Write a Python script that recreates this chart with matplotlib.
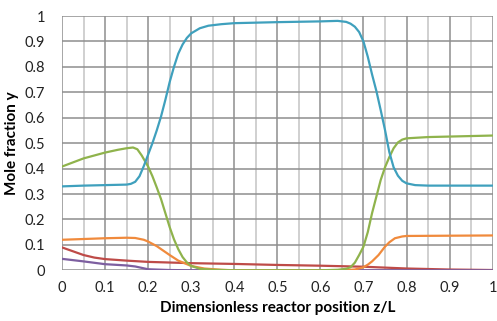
import matplotlib
matplotlib.use("Agg")
import matplotlib.pyplot as plt
from matplotlib.ticker import MultipleLocator

plt.rcParams['font.family'] = ['Lato', 'DejaVu Sans']

# mole fraction profiles along the reactor
z_blue = [0, 0.05, 0.1, 0.15, 0.16, 0.17, 0.18, 0.19, 0.2, 0.21, 0.22, 0.23, 0.24, 0.25,
          0.26, 0.27, 0.28, 0.29, 0.3, 0.32, 0.34, 0.37, 0.4, 0.5, 0.6, 0.64, 0.66,
          0.67, 0.68, 0.69, 0.7, 0.71, 0.72, 0.73, 0.74, 0.75, 0.76, 0.77, 0.78,
          0.79, 0.8, 0.82, 0.85, 0.9, 1.0]
y_blue = [0.330, 0.333, 0.335, 0.337, 0.34, 0.348, 0.37, 0.41, 0.455, 0.50, 0.55, 0.605,
          0.67, 0.74, 0.80, 0.852, 0.888, 0.914, 0.932, 0.952, 0.962, 0.968, 0.972,
          0.976, 0.979, 0.981, 0.977, 0.970, 0.958, 0.937, 0.90, 0.84, 0.77, 0.705,
          0.63, 0.552, 0.465, 0.405, 0.372, 0.352, 0.342, 0.335, 0.333, 0.333, 0.333]

z_green = [0, 0.05, 0.1, 0.13, 0.15, 0.165, 0.175, 0.185, 0.2, 0.21, 0.22, 0.23, 0.24,
           0.25, 0.26, 0.27, 0.28, 0.29, 0.3, 0.32, 0.35, 0.4, 0.6, 0.64, 0.66, 0.67,
           0.68, 0.69, 0.7, 0.71, 0.72, 0.73, 0.74, 0.75, 0.76, 0.77, 0.78, 0.79, 0.8,
           0.85, 0.9, 1.0]
y_green = [0.408, 0.44, 0.463, 0.474, 0.48, 0.483, 0.476, 0.452, 0.408, 0.37, 0.326,
           0.28, 0.225, 0.17, 0.122, 0.083, 0.052, 0.031, 0.017, 0.006, 0.002, 0.0,
           0.0, 0.002, 0.006, 0.012, 0.03, 0.06, 0.093, 0.15, 0.225, 0.29, 0.355,
           0.405, 0.445, 0.48, 0.503, 0.514, 0.519, 0.524, 0.526, 0.53]

z_orange = [0, 0.05, 0.1, 0.15, 0.17, 0.19, 0.2, 0.22, 0.25, 0.27, 0.3, 0.33, 0.37,
            0.4, 0.65, 0.68, 0.7, 0.71, 0.72, 0.735, 0.75, 0.76, 0.773, 0.79, 0.8,
            0.9, 1.0]
y_orange = [0.12, 0.123, 0.126, 0.128, 0.127, 0.12, 0.113, 0.095, 0.06, 0.038, 0.017,
            0.007, 0.002, 0.0, 0.0, 0.003, 0.012, 0.022, 0.035, 0.06, 0.093, 0.11,
            0.126, 0.133, 0.135, 0.136, 0.137]

z_red = [0, 0.025, 0.05, 0.075, 0.1, 0.15, 0.2, 0.3, 0.4, 0.5, 0.6, 0.7, 0.8, 0.9, 1.0]
y_red = [0.09, 0.075, 0.06, 0.05, 0.044, 0.038, 0.033, 0.028, 0.025, 0.021, 0.018,
         0.014, 0.007, 0.003, 0.001]

z_purple = [0, 0.05, 0.1, 0.15, 0.17, 0.2, 0.25, 0.3, 1.0]
y_purple = [0.045, 0.035, 0.024, 0.019, 0.015, 0.004, 0.001, 0.0, 0.0]

series = [
    (z_red, y_red, '#be4b48'),
    (z_purple, y_purple, '#7d5fa0'),
    (z_orange, y_orange, '#f08a3c'),
    (z_green, y_green, '#8fb34c'),
    (z_blue, y_blue, '#3fa0bd'),
]

fig = plt.figure(figsize=(4.97, 3.21), dpi=100)
ax = fig.add_axes([0.1247, 0.158, 0.8666, 0.792])

for z, y, c in series:
    ax.plot(z, y, color=c, lw=1.6, solid_capstyle='round', zorder=3)

ax.set_xlim(0, 1)
ax.set_ylim(0, 1)
ax.xaxis.set_major_locator(MultipleLocator(0.1))
ax.xaxis.set_minor_locator(MultipleLocator(0.05))
ax.yaxis.set_major_locator(MultipleLocator(0.1))
ax.set_xticklabels([f"{v:g}" for v in ax.get_xticks()])
ax.set_yticklabels([f"{v:g}" for v in ax.get_yticks()])

ax.grid(which='major', axis='both', color='#8e8e8e', lw=1.1)
ax.grid(which='minor', axis='x', color='#c4c4c4', lw=1.1)
ax.set_axisbelow(True)
for s in ax.spines.values():
    s.set_visible(False)

ax.tick_params(which='both', length=0, labelsize=10.5, colors='#222222')
ax.tick_params(axis='x', pad=8)
ax.tick_params(axis='y', pad=12)

ax.set_xlabel('Dimensionless reactor position z/L', fontsize=11, fontweight='bold', labelpad=4)
ax.set_ylabel('Mole fraction y', fontsize=11, fontweight='bold', labelpad=4)

fig.savefig('out.png', dpi=100)
